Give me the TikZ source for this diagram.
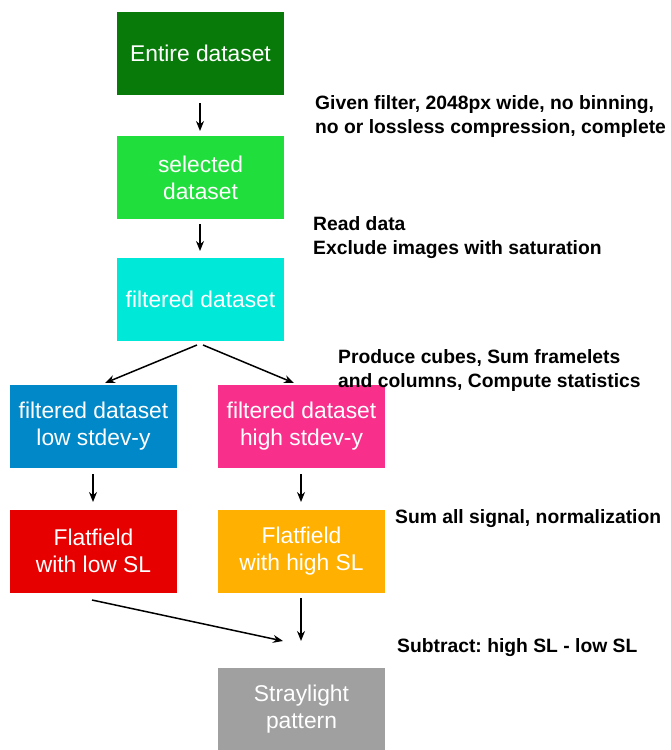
\documentclass[tikz,border=0pt]{standalone}
\usepackage{fontspec}
\setmainfont{Liberation Sans}
\usetikzlibrary{arrows.meta}
\definecolor{cA}{RGB}{8,122,10}
\definecolor{cB}{RGB}{32,222,60}
\definecolor{cC}{RGB}{0,232,216}
\definecolor{cD}{RGB}{0,136,200}
\definecolor{cE}{RGB}{248,48,140}
\definecolor{cF}{RGB}{230,0,0}
\definecolor{cG}{RGB}{255,176,0}
\definecolor{cH}{RGB}{160,160,160}
\tikzset{
  box/.style={draw=none, minimum width=167pt, minimum height=83pt, inner sep=0pt,
    text=white, align=center, font=\fontsize{22.8}{27}\selectfont},
  lbl/.style={anchor=west, align=left, inner sep=0pt, font=\frenchspacing\bfseries\fontsize{19.3}{24}\selectfont},
  arr/.style={-{Stealth[length=10pt,width=8pt]}, line width=1.5pt}
}
\begin{document}
\begin{tikzpicture}[x=1pt,y=-1pt]
\useasboundingbox (0,0) rectangle (671,750);
\node[box, fill=cA] (b1) at (200.5,53.5) {Entire dataset};
\node[box, fill=cB] (b2) at (200.5,177.5) {selected\\dataset};
\node[box, fill=cC] (b3) at (200.5,299) {filtered dataset};
\node[box, fill=cD] (b4) at (93.5,426.5) {filtered dataset\\low stdev-y};
\node[box, fill=cE] (b5) at (301.5,426.5) {filtered dataset\\high stdev-y};
\node[box, fill=cF] (b6) at (93.5,551) {Flatfield\\with low SL};
\node[box, fill=cG] (b7) at (301.5,551) {Flatfield\\with high SL};
\node[box, fill=cH] (b8) at (301.5,709) {Straylight\\pattern};

\coordinate (a1s) at (200,103); \coordinate (a1e) at (200,131);
\coordinate (a2s) at (200,224); \coordinate (a2e) at (200,251);
\coordinate (a3s) at (197,345); \coordinate (a3e) at (105,383);
\coordinate (a4s) at (203,345); \coordinate (a4e) at (294,383);
\coordinate (a5s) at (93,474); \coordinate (a5e) at (93,502);
\coordinate (a6s) at (301,474); \coordinate (a6e) at (301,502);
\coordinate (a7s) at (92,600); \coordinate (a7e) at (283,641);
\coordinate (a8s) at (301,598); \coordinate (a8e) at (301,641);
\draw[arr] (a1s) -- (a1e);
\draw[arr] (a2s) -- (a2e);
\draw[arr] (a3s) -- (a3e);
\draw[arr] (a4s) -- (a4e);
\draw[arr] (a5s) -- (a5e);
\draw[arr] (a6s) -- (a6e);
\draw[arr] (a7s) -- (a7e);
\draw[arr] (a8s) -- (a8e);

\node[lbl] (l1) at (315,117) {Given filter, 2048px wide, no binning,\\no or lossless compression, complete};
\node[lbl] (l2) at (313,238) {Read data\\Exclude images with saturation};
\node[lbl] (l3) at (338,371) {Produce cubes, Sum framelets\\and columns, Compute statistics};
\node[lbl] (l4) at (395,519) {Sum all signal, normalization};
\node[lbl] (l5) at (397,648) {Subtract: high SL - low SL};
\end{tikzpicture}
\end{document}
